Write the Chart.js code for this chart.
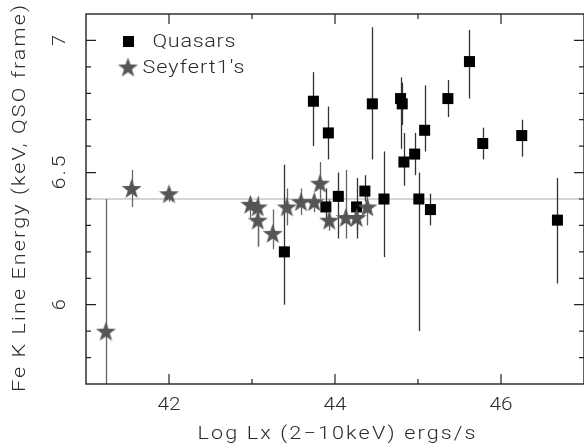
<!DOCTYPE html>
<html>
<head>
<meta charset="utf-8">
<script src="https://cdn.jsdelivr.net/npm/chart.js@4/dist/chart.umd.min.js"></script>
<style>
  body { margin: 0; background: #fff; }
  canvas { display: block; }
</style>
</head>
<body>
<canvas id="chart" width="584" height="446"></canvas>
<script>
// quasars (black squares)
const quasarX  = [43.39, 43.74, 43.89, 43.92, 44.04, 44.26, 44.36, 44.45, 44.59, 44.79, 44.81,
                  44.83, 44.96, 45.01, 45.08, 45.15, 45.36, 45.62, 45.78, 46.25, 46.68];
const quasarY  = [6.20, 6.77, 6.37, 6.65, 6.41, 6.37, 6.43, 6.76, 6.40, 6.78, 6.76,
                  6.54, 6.57, 6.40, 6.66, 6.36, 6.78, 6.92, 6.61, 6.64, 6.32];
const quasarLo = [6.00, 6.60, 6.30, 6.55, 6.25, 6.25, 6.39, 6.55, 6.18, 6.59, 6.68,
                  6.45, 6.49, 5.90, 6.58, 6.30, 6.71, 6.78, 6.55, 6.56, 6.08];
const quasarHi = [6.53, 6.88, 6.44, 6.75, 6.50, 6.48, 6.49, 7.05, 6.58, 6.86, 6.84,
                  6.65, 6.65, 6.50, 6.83, 6.42, 6.85, 7.04, 6.67, 6.70, 6.48];

// seyfert 1s (grey stars)
const seyfertX  = [41.24, 41.55, 42.00, 42.98, 43.07, 43.07, 43.25, 43.42, 43.59, 43.75,
                   43.82, 43.93, 44.13, 44.26, 44.39];
const seyfertY  = [5.90, 6.44, 6.42, 6.38, 6.37, 6.32, 6.27, 6.37, 6.39, 6.39,
                   6.46, 6.32, 6.33, 6.33, 6.37];
const seyfertLo = [5.50, 6.37, 6.39, 6.33, 6.22, 6.22, 6.21, 6.30, 6.34, 6.35,
                   6.40, 6.28, 6.25, 6.28, 6.30];
const seyfertHi = [6.40, 6.51, 6.44, 6.41, 6.41, 6.36, 6.36, 6.44, 6.44, 6.42,
                   6.54, 6.40, 6.51, 6.38, 6.44];

const refLine = 6.4;

const xMajorTicks = [42, 44, 46];
const xMinorTicks = [43, 45];
const xTickLabels = ['42', '44', '46'];
const yMajorTicks = [6, 6.5, 7];
const yMinorTicks = [5.8, 5.9, 6.1, 6.2, 6.3, 6.4, 6.6, 6.7, 6.8, 6.9];
const yTickLabels = ['6', '6.5', '7'];

const xTitle = 'Log Lx (2\u221210keV) ergs/s';
const yTitle = 'Fe K Line Energy (keV, QSO frame)';
const seriesNames = ['Quasars', 'Seyfert1\'s'];

const FONT = '300 18px Roboto, "DejaVu Sans", sans-serif';
const TEXT = '#2a2a2a';
const STAR = '#555';

// 5 pointed star used as point style
function makeStar(r, color) {
  const c = document.createElement('canvas');
  const s = Math.ceil(r * 2 + 2);
  c.width = s; c.height = s;
  const g = c.getContext('2d');
  g.fillStyle = color;
  g.beginPath();
  for (let i = 0; i < 10; i++) {
    const rr = i % 2 === 0 ? r : r * 0.4;
    const a = -Math.PI / 2 + i * Math.PI / 5;
    const px = s / 2 + rr * Math.cos(a), py = s / 2 + 1 + rr * Math.sin(a);
    i === 0 ? g.moveTo(px, py) : g.lineTo(px, py);
  }
  g.closePath();
  g.fill();
  return c;
}
const starImg = makeStar(10.5, STAR);

const qPoints = quasarX.map((x, i) => ({ x, y: quasarY[i] }));
const sPoints = seyfertX.map((x, i) => ({ x, y: seyfertY[i] }));

// the original plot font is a wide stroke font: stretch glyphs a bit, then space the rest
function wideText(ctx, text, cx, cy, width) {
  ctx.letterSpacing = '0px';
  const w = ctx.measureText(text).width;
  const sx = Math.min(width / w, 1.2);
  const sp = text.length > 1 ? (width - w * sx) / (text.length - 1) / sx : 0;
  ctx.save();
  ctx.translate(cx - width / 2, cy);
  ctx.scale(sx, 1);
  ctx.letterSpacing = sp + 'px';
  ctx.textAlign = 'left';
  ctx.fillText(text, 0, 0);
  ctx.restore();
}

const framePlugin = {
  id: 'frame',
  beforeDatasetsDraw(chart) {
    const { ctx, chartArea: a, scales: { x, y } } = chart;
    ctx.save();
    ctx.beginPath();
    ctx.rect(a.left, a.top, a.right - a.left, a.bottom - a.top);
    ctx.clip();
    // reference line
    ctx.strokeStyle = '#aaa';
    ctx.lineWidth = 1.2;
    ctx.beginPath();
    ctx.moveTo(a.left, y.getPixelForValue(refLine));
    ctx.lineTo(a.right, y.getPixelForValue(refLine));
    ctx.stroke();
    // error bars
    const bars = (xs, lo, hi, col) => {
      ctx.strokeStyle = col;
      ctx.lineWidth = 1.3;
      xs.forEach((v, i) => {
        const px = Math.round(x.getPixelForValue(v)) + 0.5;
        ctx.beginPath();
        ctx.moveTo(px, y.getPixelForValue(lo[i]));
        ctx.lineTo(px, y.getPixelForValue(hi[i]));
        ctx.stroke();
      });
    };
    bars(seyfertX, seyfertLo, seyfertHi, '#666');
    bars(quasarX, quasarLo, quasarHi, '#333');
    ctx.restore();
  },
  afterDraw(chart) {
    const { ctx, chartArea: a, scales: { x, y } } = chart;
    ctx.save();
    ctx.strokeStyle = '#222';
    ctx.lineWidth = 1.4;
    ctx.strokeRect(a.left, a.top, a.right - a.left, a.bottom - a.top);
    ctx.lineWidth = 1.2;
    ctx.beginPath();
    const xt = (v, len) => {
      const px = x.getPixelForValue(v);
      ctx.moveTo(px, a.bottom); ctx.lineTo(px, a.bottom - len);
      ctx.moveTo(px, a.top); ctx.lineTo(px, a.top + len);
    };
    const yt = (v, len) => {
      const py = y.getPixelForValue(v);
      ctx.moveTo(a.left, py); ctx.lineTo(a.left + len, py);
      ctx.moveTo(a.right, py); ctx.lineTo(a.right - len, py);
    };
    xMajorTicks.forEach(v => xt(v, 10));
    xMinorTicks.forEach(v => xt(v, 5));
    yMajorTicks.forEach(v => yt(v, 10));
    yMinorTicks.forEach(v => yt(v, 5));
    ctx.stroke();

    ctx.fillStyle = TEXT;
    ctx.font = FONT;
    ctx.textBaseline = 'middle';
    xMajorTicks.forEach((v, i) => wideText(ctx, xTickLabels[i], x.getPixelForValue(v), 405, 23));
    wideText(ctx, xTitle, 336.5, 434, 278);
    yMajorTicks.forEach((v, i) => {
      ctx.save();
      ctx.translate(60, y.getPixelForValue(v));
      ctx.rotate(-Math.PI / 2);
      wideText(ctx, yTickLabels[i], 0, 0, yTickLabels[i].length === 1 ? 11 : 34);
      ctx.restore();
    });
    ctx.save();
    ctx.translate(20, 198.5);
    ctx.rotate(-Math.PI / 2);
    wideText(ctx, yTitle, 0, 0, 387);
    ctx.restore();

    // legend
    ctx.fillStyle = '#000';
    ctx.fillRect(123, 36, 11, 11);
    ctx.drawImage(starImg, 128 - starImg.width / 2, 67 - starImg.height / 2);
    ctx.fillStyle = TEXT;
    wideText(ctx, seriesNames[0], 152.5 + 41.5, 42, 83);
    wideText(ctx, seriesNames[1], 142.5 + 51, 68, 102);
    ctx.restore();
  }
};

new Chart(document.getElementById('chart'), {
  type: 'scatter',
  data: {
    datasets: [
      {
        label: seriesNames[1],
        data: sPoints,
        pointStyle: starImg,
        pointRadius: 11,
        pointHoverRadius: 11
      },
      {
        label: seriesNames[0],
        data: qPoints,
        pointStyle: 'rect',
        pointRadius: 7.8,
        pointHoverRadius: 7.8,
        backgroundColor: '#000',
        borderWidth: 0
      }
    ]
  },
  options: {
    responsive: false,
    animation: false,
    events: [],
    layout: { autoPadding: false, padding: { left: 86, right: 0, top: 14, bottom: 62 } },
    plugins: { legend: { display: false }, tooltip: { enabled: false } },
    scales: {
      x: { type: 'linear', min: 41, max: 47, display: false },
      y: { type: 'linear', min: 5.7, max: 7.1, display: false }
    }
  },
  plugins: [framePlugin]
});
</script>
</body>
</html>
